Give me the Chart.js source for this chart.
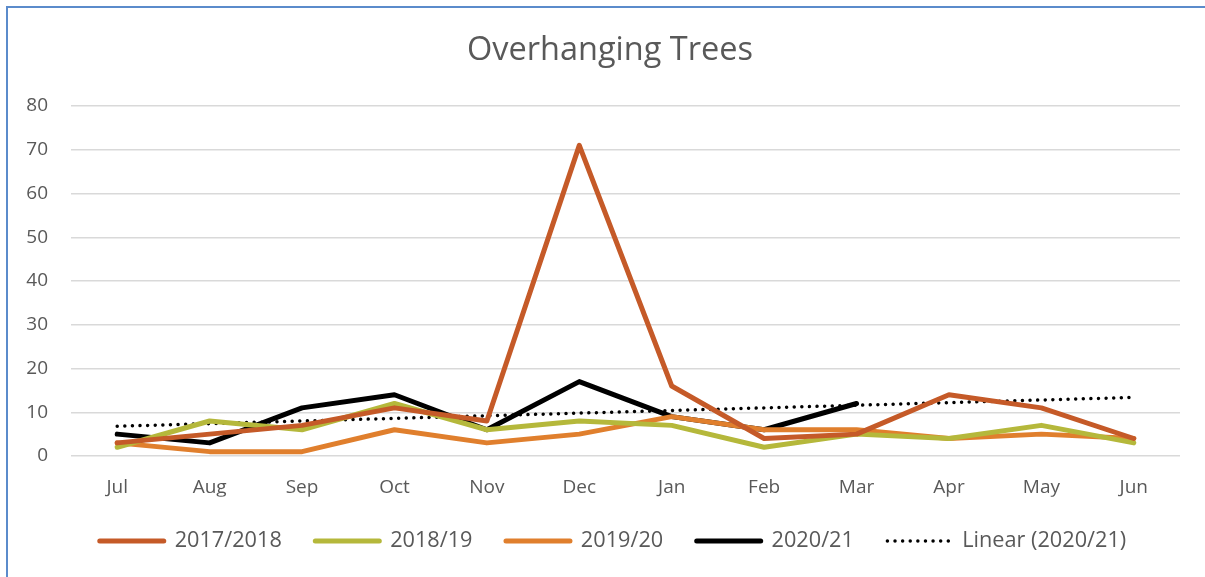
<!DOCTYPE html>
<html>
<head>
<meta charset="utf-8">
<script src="https://cdn.jsdelivr.net/npm/chart.js@4.4.0/dist/chart.umd.min.js"></script>
<style>
  html, body { margin: 0; padding: 0; background: #fff; }
  #wrap { position: relative; width: 1205px; height: 577px; overflow: hidden; }
  #bl { position: absolute; left: 6px; top: 6px; width: 2px; height: 571px; background: #5B8BCB; }
  #bt { position: absolute; left: 6px; top: 6px; width: 1199px; height: 2px; background: #5B8BCB; }
  canvas { position: absolute; left: 0; top: 0; }
</style>
</head>
<body>
<div id="wrap">
  <canvas id="c" width="1205" height="577"></canvas>
  <div id="bl"></div>
  <div id="bt"></div>
</div>
<script>
const categories = ['Jul','Aug','Sep','Oct','Nov','Dec','Jan','Feb','Mar','Apr','May','Jun'];
const s2017 = [3, 5, 7, 11, 8, 71, 16, 4, 5, 14, 11, 4];
const s2018 = [2, 8, 6, 12, 6, 8, 7, 2, 5, 4, 7, 3];
const s2019 = [3, 1, 1, 6, 3, 5, 9, 6, 6, 4, 5, 4];
const s2020 = [5, 3, 11, 14, 6, 17, 9, 6, 12, null, null, null];
const trend2020 = [6.8, 7.4, 8.0, 8.6, 9.2, 9.8, 10.4, 11.0, 11.6, 12.2, 12.8, 13.4];
const yTicks = [0, 10, 20, 30, 40, 50, 60, 70, 80];

const FONT = "'Open Sans', sans-serif";
const TXT = '#595959';

function line(label, data, color, width, dash) {
  return {
    label, data,
    borderColor: color, backgroundColor: color,
    borderWidth: width,
    borderDash: dash || [],
    borderCapStyle: 'round',
    borderJoinStyle: 'round',
    pointRadius: 0, pointHoverRadius: 0,
    tension: 0, fill: false, spanGaps: false
  };
}

const shiftBlocks = {
  id: 'shiftBlocks',
  afterLayout(chart) {
    if (chart.titleBlock) { chart.titleBlock.left += 32; }
    if (chart.legend) { chart.legend.left += 38; }
  }
};

new Chart(document.getElementById('c'), {
  type: 'line',
  plugins: [shiftBlocks],
  data: {
    labels: categories,
    datasets: [
      line('2017/2018', s2017, '#C55A28', 5),
      line('2018/19', s2018, '#B5B83B', 5),
      line('2019/20', s2019, '#E07F2D', 5),
      line('2020/21', s2020, '#000000', 5),
      line('Linear (2020/21)', trend2020, '#000000', 3.5, [0.01, 7.6])
    ]
  },
  options: {
    responsive: false,
    devicePixelRatio: 1,
    animation: false,
    layout: { padding: { left: 8, right: 25, top: 0, bottom: 15.15 } },
    plugins: {
      title: {
        display: true,
        text: 'Overhanging Trees',
        color: TXT,
        font: { family: FONT, size: 32.5, weight: 'normal' },
        padding: { top: 31, bottom: 36 }
      },
      legend: {
        position: 'bottom',
        labels: {
          usePointStyle: true,
          pointStyle: 'line',
          pointStyleWidth: 64,
          boxHeight: 4,
          padding: 33.5,
          color: TXT,
          font: { family: FONT, size: 21.7 },
          generateLabels(chart) {
            return chart.data.datasets.map((ds, i) => ({
              text: ds.label,
              datasetIndex: i,
              fillStyle: ds.borderColor,
              strokeStyle: ds.borderColor,
              lineWidth: ds.borderWidth,
              lineDash: ds.borderDash,
              lineCap: 'round',
              pointStyle: 'line',
              fontColor: TXT,
              hidden: false
            }));
          }
        }
      },
      tooltip: { enabled: false }
    },
    scales: {
      x: {
        offset: true,
        afterFit(scale) { scale.height = 40.65; },
        grid: { display: false, drawTicks: false },
        border: { display: false },
        ticks: { color: TXT, font: { family: FONT, size: 19 }, padding: 20, maxRotation: 0 }
      },
      y: {
        min: 0, max: 80,
        afterBuildTicks(scale) { scale.ticks = yTicks.map(v => ({ value: v })); },
        afterFit(scale) { scale.width = 63; },
        grid: { color: '#D9D9D9', lineWidth: 1.5, drawTicks: false },
        border: { display: false },
        ticks: { color: TXT, font: { family: FONT, size: 19 }, padding: 23 }
      }
    }
  }
});
</script>
</body>
</html>
